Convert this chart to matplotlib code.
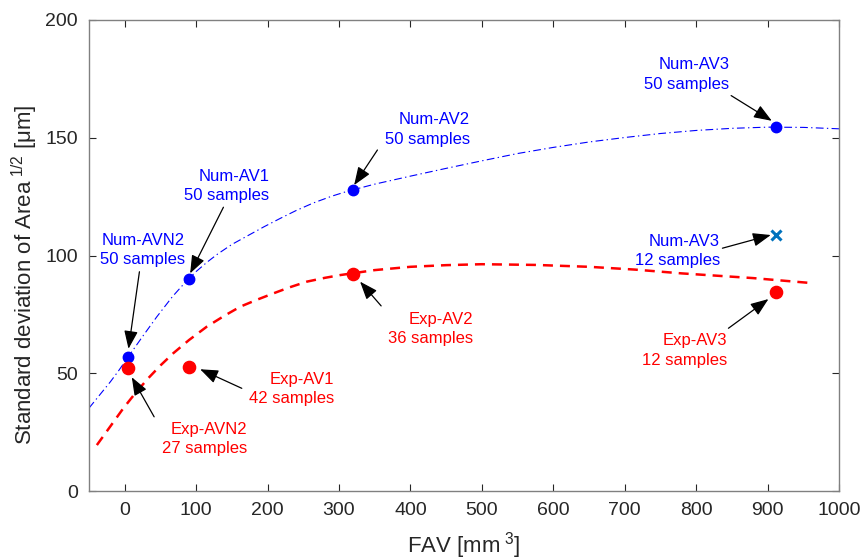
import matplotlib
matplotlib.use("Agg")
import matplotlib.pyplot as plt

plt.rcParams['font.family'] = ['Liberation Sans', 'DejaVu Sans']
plt.rcParams['mathtext.fontset'] = 'custom'
plt.rcParams['mathtext.rm'] = 'Liberation Sans'
plt.rcParams['mathtext.it'] = 'Liberation Sans'

# Data points
num_x = [5, 90, 320, 912]
num_y = [57, 90, 127.8, 154.6]
exp_x = [5, 90, 320, 912]
exp_y = [52.3, 52.8, 92.1, 84.6]
num12_x = [912]
num12_y = [108.9]

# Fitted curves
num_curve_x = [-50, -35, -20, -8, 5, 25, 45, 67, 80, 89, 100, 115, 130, 150, 171, 195,
               218, 240, 264, 290, 311, 350, 400, 450, 500, 550, 600, 650, 700, 750,
               800, 850, 900, 950, 1000]
num_curve_y = [35.2, 40.8, 46.4, 51.3, 57, 65.6, 74, 82.6, 87.0, 90, 93.2, 97.1, 100.6,
               104.7, 108.2, 112.2, 115.8, 119.1, 122.3, 125.2, 127.2, 130.3, 133.7,
               137.0, 140.2, 143.3, 145.9, 148.2, 150.1, 151.8, 153.1, 154.0, 154.5,
               154.4, 153.8]
exp_curve_x = [-39, -20, -2, 15, 33, 50, 68, 90, 115, 140, 162, 185, 208, 230, 255, 280,
               302, 350, 400, 450, 500, 575, 650, 715, 780, 880, 965]
exp_curve_y = [19.5, 27.5, 35.1, 41.6, 47.9, 53.3, 58.5, 64.1, 69.8, 74.5, 78.3, 81.2,
               83.9, 86.4, 88.9, 90.5, 91.7, 93.8, 95.2, 95.9, 96.3, 96.0, 95.2, 94.0,
               92.4, 90.4, 88.2]

# Annotations: text, text position, arrow tail, arrow head, color
labels = ["Num-AVN2\n50 samples", "Num-AV1\n50 samples", "Num-AV2\n50 samples",
          "Num-AV3\n50 samples", "Num-AV3\n12 samples",
          "Exp-AVN2\n27 samples", "Exp-AV1\n42 samples", "Exp-AV2\n36 samples",
          "Exp-AV3\n12 samples"]
label_x = [84.6, 202.2, 483.6, 846.2, 833.5, 170.9, 293.2, 487.8, 843.0]
label_y = [102.3, 129.5, 153.5, 176.9, 101.9, 22.1, 43.3, 68.8, 59.7]
tail_x = [20.6, 138.2, 353.8, 849.0, 836.8, 41.2, 163.9, 359.0, 845.2]
tail_y = [93.1, 120.5, 144.8, 167.9, 103.1, 31.5, 43.6, 78.6, 69.1]
head_x = [5.3, 91.6, 321.2, 905.9, 904.5, 9.9, 105.6, 329.5, 901.2]
head_y = [60.4, 92.4, 129.9, 157.2, 108.7, 48.3, 51.7, 88.9, 81.5]
label_colors = ['blue'] * 5 + ['red'] * 4

fig = plt.figure(figsize=(8.63, 5.60), dpi=100)
ax = fig.add_axes([89/863, 1-491/560, (839-89)/863, (491-20)/560])

ax.plot(num_curve_x, num_curve_y, color='blue', lw=0.8, linestyle=(0, (7, 3, 1.2, 3)))
ax.plot(exp_curve_x, exp_curve_y, color='red', lw=1.8, linestyle=(0, (4, 2.8)))
ax.plot(num_x, num_y, 'o', color='blue', ms=7.5, mec='blue')
ax.plot(exp_x, exp_y, 'o', color='red', ms=8.8, mec='red')
ax.plot(num12_x, num12_y, 'x', color='#0072BD', ms=6.5, mew=2.2)

for t, lx, ly, tx, ty, hx, hy, c in zip(labels, label_x, label_y, tail_x, tail_y,
                                        head_x, head_y, label_colors):
    ax.text(lx, ly, t, color=c, fontsize=12, ha='right', va='center',
            multialignment='right', linespacing=1.4)
    ax.annotate('', xy=(hx, hy), xytext=(tx, ty),
                arrowprops=dict(arrowstyle='-|>,head_length=1.1,head_width=0.42',
                                color='black', lw=0.9, shrinkA=0, shrinkB=0))

ax.set_xlim(-50, 1000)
ax.set_ylim(0, 200)
ax.set_xticks(range(0, 1001, 100))
ax.set_yticks(range(0, 201, 50))
ax.tick_params(direction='in', length=5, top=True, right=True, labelsize=14,
               colors='#262626', width=0.8, pad=8)
for s in ax.spines.values():
    s.set_color('#808080')
    s.set_linewidth(1.0)

ax.set_xlabel('FAV [mm$^{\\ 3}$]', fontsize=16, color='#262626', labelpad=8)
ax.set_ylabel('Standard deviation of Area$^{\\ 1/2}$ [μm]', fontsize=16,
              color='#262626')
ax.yaxis.set_label_coords(-0.065, 0.46)

fig.savefig('out.png', dpi=100)
